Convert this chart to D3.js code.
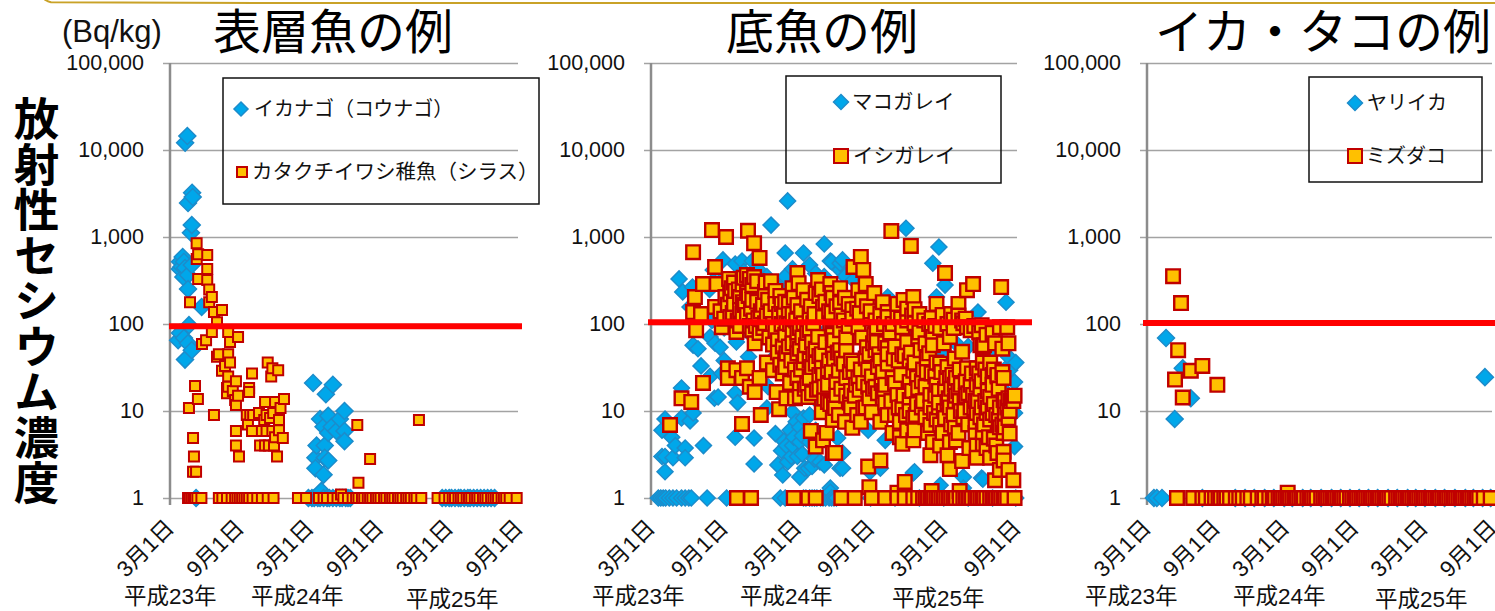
<!DOCTYPE html>
<html>
<head>
<meta charset="utf-8">
<script src="https://d3js.org/d3.v7.min.js"></script>
<style>
body { margin: 0; background: #fff; }
text { font-family: "Liberation Sans", "Noto Sans CJK JP", sans-serif; fill: #111; }
</style>
</head>
<body>
<div id="chart"></div>
<script>
'use strict';

// x values are months since 3/1 of Heisei 23, y values are Bq/kg
const yTicks = [1, 10, 100, 1000, 10000, 100000];
const monthTicks = [0, 6, 12, 18, 24, 30];
const monthLabels = ['3月1日', '9月1日', '3月1日', '9月1日', '3月1日', '9月1日'];
const yearLabels = ['平成23年', '平成24年', '平成25年'];
const yAxisTitle = '放射性セシウム濃度';
const limitValues = [94, 105, 103];

const ikanago = [[1.49,14500],[1.3,12100],[1.9,3230],[1.95,2880],[1.55,2460],[1.87,1370],[1.8,1120],
    [1.09,590],[.86,520],[1.2,520],[1.0,455],[1.87,476],[1.29,440],[.85,430],[1.15,347],[1.55,365],[1.55,252],
    [2.72,157],[1.63,97],[.86,79],[.7,65],[1.2,69],[1.55,60],[1.87,50],[1.29,39],
    [12.3,21],[14,20],[13.4,15.6],[13.6,8.8],[12.9,8.1],[15,10],[14.6,8.1],[13.9,6.6],[13.2,6.6],[13.6,5.6],
    [15,5.9],[14.3,5.9],[15,4.5],[12.6,4],[13.3,4],[12.5,2.9],[13.3,2.9],[13.6,2.7],[12.5,2.2],[13.2,1.85],[13.0,1.2]];
const ikanagoOnes = [2.24,11.9,12.2,12.4,12.7,12.9,13.2,13.5,13.7,14.0,14.3,14.6,14.8,15.1,15.3,15.5,
    23.4,23.7,24,24.2,24.5,24.8,25,25.3,25.6,25.8,26.1,26.4,26.7,27,27.3,27.6,27.9];
const shirasu = [[2.29,850],[2.42,635],[3.2,620],[2.3,560],[3.2,430],[2.42,330],[3.2,320],[3.37,250],[3.6,204],[3.37,178],
    [1.72,178],[4.47,145],[3.78,137],[4.04,105],[3.6,81],[5,81],[5.85,71],[5.16,62],[3.1,65],[2.75,59],
    [4.04,42],[4.2,45],[5,45],[5.16,36],[4.73,33],[4.47,29],[5,25],[5.67,22],[7.05,27],[4.9,18.4],[5,19],[4.9,16],
    [5.4,17],[5.85,15],[5.6,13.4],[5.67,11.7],[6.8,18.4],[6.8,16.5],[2.15,19.4],[2.4,13.7],[1.63,10.8],[3.78,9],
    [1.98,4.9],[2.06,3],[1.98,2],[2.24,2],[5.67,5.9],[5.67,4],[5.93,3],[8.4,36],[8.8,31],[9.3,29.5],[8.7,25],
    [9.8,13.7],[8.17,12.7],[9.03,12.7],[9.5,10.8],[7.65,9.5],[6.6,9],[6.9,9],[7.15,9],[8.3,9],[8.87,9.5],[6.7,7],
    [8.1,7.9],[8.6,8.3],[9.37,7.9],[7.05,5.9],[7.9,5.9],[8.3,5.9],[8.8,5.9],[9.37,6],[9.03,5],[9.7,4.9],[7.74,4],
    [8.17,4],[8.5,4],[8.94,4],[9.2,3],[14.7,1.1],[16.2,1.5],[17.2,2.8],[16.1,6.9],[21.4,7.9]];
const shirasuOnes = [1.55,1.7,1.85,2.0,2.15,2.35,2.7,4.2,4.5,4.9,5.3,5.6,5.8,6.0,6.2,6.4,6.6,6.8,7.1,7.5,7.9,8.4,8.9,
    11.0,11.7,12.8,13.2,13.5,14.0,14.4,14.9,15.3,15.7,16,16.2,16.5,16.7,17,17.2,17.4,17.7,17.9,18.1,18.4,18.6,18.9,19.1,
    19.3,19.6,19.8,20,20.3,20.5,20.7,21,21.2,21.6,23,23.6,24,24.3,24.5,24.8,25,25.2,25.5,25.7,25.9,26.2,26.4,26.6,26.9,
    27.1,27.3,27.6,27.8,28,28.2,28.5,28.7,28.9,29.2,29.8];

const makogarei = [[11.2,2600],[9.84,1370],[14.2,830],[11,655],[12.5,655],[13,476],[11.6,430],[14.7,530],[5.9,545],[6.9,490],
    [7.46,530],[8.3,530],[2.3,330],[2.6,234],[3.4,266],[5.1,418],[10.4,266],[3.2,157],[3.45,57],[3.85,52],[5.66,54],[7,62],
    [4.84,71],[5.25,60],[10,157],[10,134],[15.5,418],[15.5,500],[20.9,1260],[23.6,767],[23.1,500],[24.1,280],[29.1,178],
    [26.8,137],[23.4,204],[19.4,204],[15.7,545],[14.8,520],[15.9,355],[16.6,320],[28.4,60],[4.1,33],[2.5,18.4],[4.84,25],
    [5.5,14.5],[5.2,14],[3.45,9.5],[2.5,8.3],[3.2,7.7],[1.15,8.1],[.9,6],[1.7,5],[2,4],[2.8,3.75],[2.8,2.9],[1.8,2.9],[.9,3],
    [1.15,3],[1.15,2],[4.3,4],[6.9,5],[8.45,4.9],[8.45,2.46],[5.8,27],[6.9,16],[7.1,12.5],[9.5,10.8],[11.4,6],[11.1,4],
    [10.8,1.84],[10.4,2.4],[11.2,2.6],[12,3],[12.2,1.74],[12.6,2.2],[13.85,2.6],[13.2,2.3],[11.6,4],[12.2,4.4],[13,9],[12.5,8.3],
    [11.6,9.7],[15.5,2.2],[14.7,1.3],[9.6,19],[29.3,42],[29.9,36],[29.4,29.5],[29.8,21.5],[29.8,9.5],[29.8,3.9],[28,50],
    [27.1,1.7],[25.6,1.74],[23.7,1.4],[21.5,1.94],[19.2,4.6],[17.95,2],[15.7,2.2],[15.7,3.3],[15.3,4.9],[17.8,6],[18.8,2.2],
    [17.4,42],[20.2,17.5],[25.6,1.3],[14.7,1.17],[27.2,1.65],[21.6,2],[14.2,80],[15,30],[16.4,20],[17.5,15],[18.5,11],[20,26],
    [22,30],[24,44],[26,55],[27.5,24],[29,17],[10.5,32],[8,42],[6,38],[13.4,14],[14.4,11],[19,8],[23,6],[25.4,8],[27,11],
    [10.7,3.5],[11.5,3],[12.4,3.2],[12.9,2.2],[13.4,2.8],[14.2,2.4],[10.9,4.5],[11.7,5],[12.4,5.2],[13,4.4],[13.5,6],[11.9,7.5],
    [12.2,6.5],[10.2,5.5],[17,100],[19,70],[21,85],[23,45],[25,60],[27,30],[29,30],[16,170],[15,60],[13,60],[12,40],[10,40],
    [8,80],[6,90],[5,110],[4,120],[4.8,250],[5.6,300],[6.2,260],[7.6,400],[8.8,420],[9.5,350],[11,350],[12,300],[13.5,380],[14.2,350]];
const makogareiOnes = [.6,.8,1,1.2,1.5,1.8,2.1,2.5,2.8,3.1,3.3,4.6,6.2,10.6,11,12.5,12.7,13,13.2,13.4,13.6,13.9,14.1,14.3,14.6,14.8,15,15.2,
    18,20,22,24,26,28,29.9];
const ishigarei = [[5,1200],[6.15,1000],[7.95,1180],[8.45,850],[8.9,575],[3.45,670],[5.25,452],[4.26,288],[5.4,288],[6.4,330],[3.6,204],
    [3.45,137],[4.1,130],[5.25,157],[3.7,85],[8.45,347],[7.87,365],[9.84,311],[9.34,234],[9.18,166],[10.7,170],[12,385],[12.1,295],
    [11.6,258],[12.5,245],[13.7,320],[14.7,288],[13.5,227],[11.6,130],[14.1,157],[9.34,102],[6.6,258],[6.9,240],[8.3,280],[7.3,204],
    [7.87,227],[6.1,204],[6.3,166],[6.7,134],[7.54,178],[8.3,189],[7.3,145],[8.8,117],[5.8,92],[7,81],[8.3,85],[8.9,79],[8.5,60],
    [7.87,127],[10.4,65],[11.6,79],[12,60],[13,127],[13.3,102],[14.1,120],[14.9,79],[14.7,102],[12.8,79],[13.7,71],[12.5,102],[11.1,102],
    [6.3,31],[6.3,24],[7,29.5],[7.46,24],[7.87,31],[8.5,16.5],[8.1,19],[4.26,21],[2.5,14],[3.3,12.7],[1.56,6.9],[7.46,7.1],[9,9],[10.5,10.5],
    [13.1,5.9],[13.5,3.9],[14.4,5.6],[14.9,3.3],[14.1,4.6],[9.5,36],[10.6,34],[11.1,46],[12.5,36],[13.3,45],[14.9,50],[10.3,16.5],[11.1,14],
    [12.2,18],[12.9,14.5],[14,9.7],[14.9,7.9],[13.6,17.5],[14.5,12.7],[11.4,21],[10,29.5],[8.9,24],[10.8,27],[12,24],[13,24],[14.1,26],
    [15.2,21.5],[15.2,15.3],[11.8,14],[12.8,20],[11,40.5],[12,46],
    [15.5,50],[16,50],[19.4,53],[18.4,50],[15.2,21.5],[17,24],[17.1,17.5],[18.6,32],[19.8,24],[18.1,25],[18.6,16],[16.5,6.4],[15.1,10.8],
    [15.1,3.3],[17.8,2.3],[18.8,2.7],[17.4,10.8],[16.3,12.5],[19.2,12.5],[18.8,7.5],[18.1,9.7],[20.6,4.2],[21.5,4.6],[19.8,5.6],[20.8,1.53],
    [17.9,1.33],[21.2,13.4],[20.6,11.1],[21.5,8.3],[20.4,7.5],[21.6,6],[22.9,6.9],[22.5,8.5],[24.3,12.7],[24.1,8.3],[25.2,5.6],[23.7,4],
    [24.3,3.1],[25.5,2.66],[24.5,2.15],[22.9,3.1],[26.7,4],[27.2,4.2],[26.7,2.9],[28.4,3.3],[28.9,3.4],[29.3,2.1],[28.2,1.6],[29.7,1.6],
    [28.6,2.1],[28.9,2.7],[27.5,3.75],[27.8,2.9],[28.4,25],[28,26],[29.8,15],[29.3,8.3],[28.9,5.6],[27.8,14.5],[27.5,9.5],[27,8.5],[28.9,13.4],
    [27.2,5.7],[28.3,4],[26.7,31],[27.8,36],[27.2,36],[25.9,31],[24.9,40],[24.3,32],[23.4,36],[22.6,40],[21.6,36],[20.8,43],[24.9,20],[26.4,15.3],
    [25.7,12.7],[24.8,9],[22.9,15.3],[21.9,18.4],[23.4,20],[26.7,20],[21.2,21.5],[20.2,15.3],[26.6,5.6],[26.1,3.75],[23.1,4.4],[24.5,4.4],
    [24.9,6.4],[25.6,8.5],[23.9,5.6],
    [19.7,1170],[21.3,790],[24.1,385],[26.4,288],[25.9,245],[28.7,266],[23.4,170],[25.2,170],[21.5,204],[17.2,590],[17.4,418],[16.6,452],[17.6,288],
    [18.3,227],[17,245],[15.5,258],[19,178],[20.7,189],[19.4,137],[21.6,148],[17.1,134],[16.5,148],[15.5,174],[14.8,227],[14.8,134],[23.9,127],
    [23,117],[24.8,112],[25.6,102],[27.1,97],[29.2,92],[28,79],[25.9,92],[27,57],[23.1,71],[24.5,71],[20.6,79],[18.5,92],[18.5,62],[17,92],[14.9,75],
    [16,50],[21.9,71],[21.6,102],[20.6,92],[19.4,120],[17.7,54],[19.2,60],[23.1,57],[27.2,54],[28.6,92],[27.3,57],[28.4,26],[27.6,25],[23,1.2],
    [25.3,1.2],[20.2,1.15],
    [6.5,120],[6.8,170],[7.1,110],[7.3,95],[7.5,130],[7.7,165],[7.2,250],[6.8,300],[7.5,285],[8,210],[8.2,150],[8.4,110],[8.6,95],[8.7,180],[9,140],[9.2,90],
    [9.5,125],[8.1,95],[6.5,220],[5.7,140],[6,115],[7.6,340],[8.1,330],[8.7,310],[9.4,300],[9.6,190],[9.8,140],[10,100],[10.2,85],[9.7,70],[10,58],[10.4,47],
    [10.7,100],[11,75],[11.3,55],[11.5,38],[10.9,130],[11.3,170],[11.9,110],[12.2,90],[12.4,70],[12.7,57],[13,85],[13.2,62],[13.5,52],[13.8,43],[14,33],
    [14.3,62],[14.6,38],[14.8,28],[15,65],[15.3,47],[15.5,85],[15.8,110],[16,70],[16.2,95],[16.4,38],[16.6,28],[16.8,20],[17.3,70],[17.6,40],[17.8,30],
    [18,115],[18.3,75],[18.7,45],[19,28],[19.2,20],[19.4,35],[19.6,80],[20,55],[20.3,38],[20.5,26],[21,62],[21.3,47],[21.5,29],[22.1,50],[22.3,30],[22.5,19],
    [22.8,46],[23,27],[23.3,15],[23.6,11],[23.8,28],[24.1,18],[24.4,14],[24.7,26],[25,15],[25.3,30],[25.5,48],[25.8,22],[26,16],[26.3,27],[26.5,10],[26.8,13],
    [27,18],[27.4,13],[27.8,8],[28.1,12],[28.3,9],[28.6,11],[28.8,7],[29,6.5],[29.2,11],[29.5,13],[29.6,14],[22.5,60],[23,85],[24,60],[24.8,90],[25.5,110],
    [26.2,85],[22,80],[21,110],[20.2,130],[13.8,18],[14.2,14],[14.7,12],[15,12],[15.6,18],[16,15],[16.4,11],[15.4,9],[15.9,7.5],[16.9,9],[17.2,7.5],[17.6,11],
    [17.9,14],[18.4,19],[19.1,17],[19.4,9],[20,9],[20.4,5],[20.9,9],[21,6],[21.8,12],[22.2,11],[22.7,5.6],[23.4,8],[23.7,7],[24.6,7],[25,4.6],[25.4,10],[26,7],
    [26.6,7.5],[27.3,7],[27.7,5],[28.1,4.8],[28.6,6.5],[29,9.5],[29.4,5.5],[11,32],[11.8,30],[12.3,30],[12.6,43],[13.2,32],[13.8,26],[14.5,20],[12.2,14.5],
    [12.6,18],[13.2,16],[14.2,19],[15.4,29],[16,24],[16.6,35],[17.2,30],[17.9,45],[18.2,18],[19,14],[20,21],[21.4,17],[23.6,17],[24.5,24],[25.2,17],[26.9,27],
    [27.4,30],[28.1,30],[28.8,28],[28.9,24],[29.3,14],[29.7,13],
    [10.2,240],[10.6,210],[11,180],[11.3,130],[11.7,200],[12,165],[12.3,140],[12.8,190],[13.1,160],[13.4,130],[13.8,210],[14,250],[14.3,180],[14.6,140],[14.9,200],
    [15.2,160],[15.6,125],[15.9,200],[16.2,170],[16.5,115],[16.9,150],[17.3,190],[17.7,160],[18,140],[18.4,110],[18.8,130],[19.1,100],[19.8,100],[20.2,170],[20.5,115],
    [21,150],[21.4,125],[22,130],[22.4,110],[22.8,100],[23.3,95],[23.7,90],[24.3,100],[24.6,130],[25.2,125],[25.8,115],[26.5,95],[26.9,80],[27.5,75],[28.2,60],[28.8,52],
    [29.3,60],[18.2,60],[18.8,38],[19.4,45],[19.9,40],[20.6,45],[21.2,38],[21.8,24],[22.2,22],[22.6,28],[23.3,25],[23.7,35],[24.2,24],[24.6,18],[25,24],[25.4,20],[25.8,15],
    [26.2,20],[26.6,13],[27.1,22],[27.6,17],[28,20],[28.5,18],[29,13],[29.4,10],[19.7,13],[20.3,11],[20.7,15],[21.2,10],[21.7,9],[22.3,13],[22.9,11],[23.2,9.5],[23.6,12.5],
    [24,10],[24.5,11],[24.9,13],[25.3,13],[25.7,10],[26.2,11],[26.7,9.5],[27.1,11],[27.6,11],[28,9.5],[28.5,8],[16.7,15],[16.4,17],[17.4,21],[17.8,19],[18.9,21],[15.8,35],
    [16.3,28],[15.6,40],[15,40],[14.5,30],[14,45],[13.5,35],[13,38],[12.2,52],[11.6,60],[12,80],[10.8,55],[11.4,100],[10.5,130],[10.2,170]];
const ishigareiOnes = [7.05,8.2,11.7,12.9,13.5,15.6,16.7,18.1,19.2,20.2,20.8,21.5,21.9,22.3,22.5,22.7,22.9,23,23.2,23.4,23.6,23.8,24,24.2,24.4,24.6,24.8,25,
    25.3,25.6,25.8,26,26.1,26.3,26.6,26.8,27,27.2,27.3,27.5,27.8,28,28.2,28.3,28.5,28.7,28.9,29,29.2,29.8];

const yariika = [[1.65,69],[3.1,31],[3.8,14],[2.4,8.1],[29.3,24.5]];
const yariikaOnes = [.6,.85,1.3,4.8,7.65,8.5,9.3,10.2,11,11.9,12.6,13.5,14.2,15.1,16,16.8,17.6,18.4,19.2,20,20.9,21.7,22.6,23.3,24.1,25,25.8,26.7,
    27.6,28.3,29.1,29.8];
const mizudako = [[2.26,355],[2.95,174],[2.7,50],[2.43,23],[3.8,29],[4.8,33],[6.1,20],[3.1,14.3],[12.2,1.15]];
const mizudakoOnes = [2.6,4,4.8,5.1,5.6,5.9,6.2,6.4,6.7,6.9,7.2,7.7,8,8.3,8.7,9,9.6,10,10.2,10.6,10.9,11.1,11.4,11.6,11.8,12,12.2,12.4,12.6,12.8,13,
    13.2,13.4,13.6,13.9,14.1,14.3,14.5,14.7,15.1,15.3,15.5,15.7,15.9,16.1,16.3,16.5,16.7,16.9,17.1,17.3,17.6,17.8,18,18.2,18.4,18.6,18.8,19,19.2,19.4,19.6,
    19.8,20,20.2,20.4,20.6,20.8,21,21.2,21.6,21.8,22,22.2,22.4,22.6,22.8,23,23.2,23.4,23.6,23.8,24,24.2,24.4,24.6,24.8,25,25.2,25.4,25.6,25.8,26,26.2,
    26.4,26.6,26.8,27,27.2,27.4,27.6,27.8,28,28.2,28.4,28.6,28.8,29.2,29.8];

const width = 1495, height = 611;
const yTop = 63, yBottom = 498;
const blue = { fill: '#00a7ea', stroke: '#1c8ccb' };
const orange = { fill: '#ffc000', stroke: '#c00000' };

const svg = d3.select('#chart').append('svg')
    .attr('width', width)
    .attr('height', height)
    .style('display', 'block');

const y = d3.scaleLog().domain([1, 100000]).range([yBottom, yTop]);

// frame of the slide, only its lower edge is in the picture
svg.append('path')
    .attr('d', d3.line().curve(d3.curveBasis)([[44, -1], [50, 3], [62, 3], [1495, 3]]))
    .attr('fill', 'none')
    .attr('stroke', '#c9a227')
    .attr('stroke-width', 2);

svg.append('text')
    .attr('x', 62).attr('y', 42)
    .style('font-size', '31px')
    .text('(Bq/kg)');

svg.append('text')
    .attr('x', 32).attr('y', 96)
    .style('writing-mode', 'vertical-rl')
    .style('font-size', '45.5px')
    .style('font-weight', 'bold')
    .style('fill', '#000')
    .text(yAxisTitle);

function marker(kind, size) {
    // size is the overall width of the marker
    if (kind == 'diamond') {
        return d3.symbol().type(d3.symbolSquare).size(size * size / 2)();
    }
    return d3.symbol().type(d3.symbolSquare).size(size * size)();
}

function merged(points, ones) {
    var all = points.concat(ones.map(function(m) { return [m, 1] }));
    return d3.sort(all, function(d) { return d[0] });
}

function drawSeries(g, x, data, kind, size, color, strokeWidth) {
    g.append('g').selectAll('path').data(data).enter().append('path')
        .attr('d', marker(kind, size))
        .attr('transform', function(d) {
            return 'translate(' + x(d[0]) + ',' + y(d[1]) + ')' + (kind == 'diamond' ? ' rotate(45)' : '');
        })
        .attr('fill', color.fill)
        .attr('stroke', color.stroke)
        .attr('stroke-width', strokeWidth);
}

function drawPanel(p) {
    var x = d3.scaleLinear().domain([0, 30]).range([p.left, p.right]);
    var g = svg.append('g');

    g.append('text')
        .attr('x', p.titleX).attr('y', 49)
        .style('font-size', '48px')
        .style('fill', '#000')
        .text(p.title);

    var yAxis = g.append('g')
        .attr('transform', 'translate(' + p.left + ',0)')
        .call(d3.axisLeft(y).tickValues(yTicks).tickFormat(d3.format(',')).tickPadding(26));
    yAxis.select('.domain').remove();
    yAxis.selectAll('.tick line')
        .attr('x1', -7)
        .attr('x2', p.gridRight - p.left)
        .attr('stroke', '#a3a3a3')
        .attr('stroke-width', 1.5);
    yAxis.selectAll('.tick text')
        .style('font-size', '21.5px')
        .style('font-family', '"Liberation Sans"')
        .attr('x', -26);

    g.append('line')
        .attr('x1', p.left).attr('x2', p.left)
        .attr('y1', yTop).attr('y2', yBottom + 7)
        .attr('stroke', '#8c8c8c')
        .attr('stroke-width', 2.5);

    var xAxis = g.append('g')
        .attr('transform', 'translate(0,' + yBottom + ')')
        .call(d3.axisBottom(x).tickValues(monthTicks).tickFormat(function(d, i) { return monthLabels[i] }).tickSize(0));
    xAxis.select('.domain').remove();
    xAxis.selectAll('.tick text')
        .style('font-size', '22.5px')
        .attr('text-anchor', 'end')
        .attr('dy', null)
        .attr('y', null)
        .attr('transform', 'translate(5,31) rotate(-45)');

    drawSeries(g, x, merged(p.series[0], p.series[1]), 'diamond', p.diamond, blue, 1.5);
    drawSeries(g, x, merged(p.series[2], p.series[3]), 'square', p.square, orange, p.squareStroke);

    g.append('line')
        .attr('x1', p.limitLeft).attr('x2', p.limitRight)
        .attr('y1', y(p.limit)).attr('y2', y(p.limit))
        .attr('stroke', '#ff0000')
        .attr('stroke-width', 6);

    g.selectAll('.year').data(yearLabels).enter().append('text')
        .attr('class', 'year')
        .attr('x', function(d, i) { return p.yearX[i] })
        .attr('y', function(d, i) { return p.yearY[i] })
        .style('font-size', '22.5px')
        .text(function(d) { return d });

    // legend box is not filled, the grid shows through it
    var l = p.legend;
    g.append('rect')
        .attr('x', l.x).attr('y', l.y).attr('width', l.w).attr('height', l.h)
        .attr('fill', 'none')
        .attr('stroke', '#111')
        .attr('stroke-width', 1.5);
    l.rows.forEach(function(r, i) {
        var kind = i == 0 ? 'diamond' : 'square';
        g.append('path')
            .attr('d', marker(kind, r.size))
            .attr('transform', 'translate(' + r.mx + ',' + r.my + ')' + (kind == 'diamond' ? ' rotate(45)' : ''))
            .attr('fill', (i == 0 ? blue : orange).fill)
            .attr('stroke', (i == 0 ? blue : orange).stroke)
            .attr('stroke-width', i == 0 ? 1.5 : 2);
        g.append('text')
            .attr('x', r.tx).attr('y', r.my + 7)
            .style('font-size', r.font + 'px')
            .text(r.text);
    });
}

drawPanel({
    title: '表層魚の例', titleX: 213, left: 170, right: 519, gridRight: 518, limitLeft: 169, limitRight: 522,
    limit: limitValues[0], diamond: 17, square: 10, squareStroke: 2,
    series: [ikanago, ikanagoOnes, shirasu, shirasuOnes],
    yearX: [124, 251, 406], yearY: [604, 604, 607],
    legend: { x: 223, y: 78, w: 316, h: 126, rows: [
        { mx: 241, my: 109, size: 14, tx: 254, text: 'イカナゴ（コウナゴ）', font: 20 },
        { mx: 242, my: 172, size: 10, tx: 252, text: 'カタクチイワシ稚魚（シラス）', font: 20.5 }
    ] }
});
drawPanel({
    title: '底魚の例', titleX: 726, left: 651, right: 1017, gridRight: 1017, limitLeft: 648, limitRight: 1032,
    limit: limitValues[1], diamond: 16, square: 13.6, squareStroke: 2.4,
    series: [makogarei, makogareiOnes, ishigarei, ishigareiOnes],
    yearX: [592, 740, 892], yearY: [604, 604, 606],
    legend: { x: 786, y: 76, w: 215, h: 107, rows: [
        { mx: 841, my: 102, size: 15, tx: 852, text: 'マコガレイ', font: 20.5 },
        { mx: 841, my: 156, size: 14, tx: 853, text: 'イシガレイ', font: 20.5 }
    ] }
});
drawPanel({
    title: 'イカ・タコの例', titleX: 1155, left: 1147, right: 1493, gridRight: 1492, limitLeft: 1143, limitRight: 1495,
    limit: limitValues[2], diamond: 17, square: 13.6, squareStroke: 2.4,
    series: [yariika, yariikaOnes, mizudako, mizudakoOnes],
    yearX: [1085, 1233, 1375], yearY: [604, 604, 607],
    legend: { x: 1309, y: 77, w: 173, h: 105, rows: [
        { mx: 1355, my: 103, size: 15, tx: 1367, text: 'ヤリイカ', font: 20 },
        { mx: 1355, my: 156, size: 14, tx: 1366, text: 'ミズダコ', font: 20 }
    ] }
});
</script>
</body>
</html>
